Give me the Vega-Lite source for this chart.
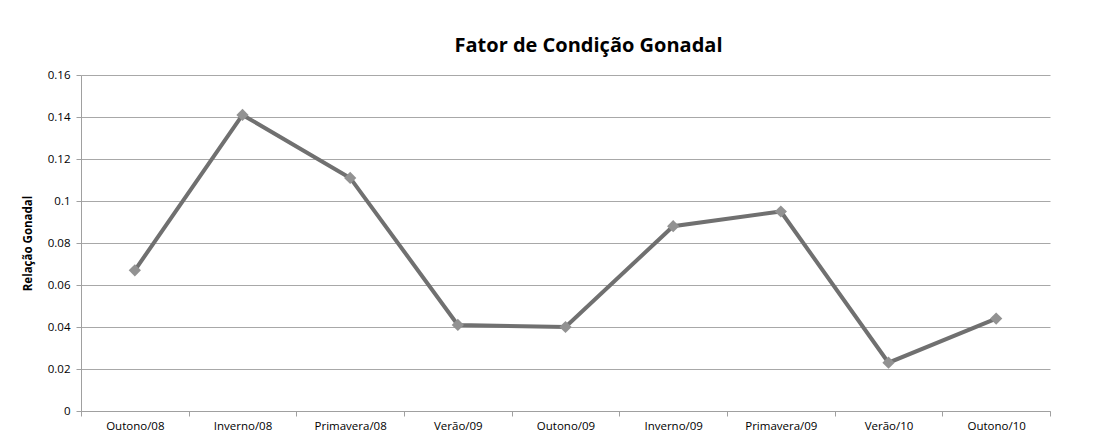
{
  "$schema": "https://vega.github.io/schema/vega-lite/v6.json",
  "autosize": "none",
  "width": 969,
  "height": 336,
  "padding": {"left": 81, "top": 75, "right": 52, "bottom": 29},
  "background": "white",
  "title": {
    "text": "Fator de Condição Gonadal",
    "font": "Open Sans",
    "fontSize": 20,
    "fontWeight": "bold",
    "color": "#000000",
    "anchor": "middle",
    "dx": 23,
    "offset": 13
  },
  "data": {
    "values": [
      {"estacao": "Outono/08", "valor": 0.067},
      {"estacao": "Inverno/08", "valor": 0.141},
      {"estacao": "Primavera/08", "valor": 0.111},
      {"estacao": "Verão/09", "valor": 0.041},
      {"estacao": "Outono/09", "valor": 0.040},
      {"estacao": "Inverno/09", "valor": 0.088},
      {"estacao": "Primavera/09", "valor": 0.095},
      {"estacao": "Verão/10", "valor": 0.023},
      {"estacao": "Outono/10", "valor": 0.044}
    ]
  },
  "encoding": {
    "x": {
      "field": "estacao",
      "type": "nominal",
      "sort": null,
      "scale": {"type": "band", "paddingInner": 0, "paddingOuter": 0},
      "axis": {
        "title": null,
        "labelAngle": 0,
        "labelFont": "Open Sans",
        "labelFontSize": 11.5,
        "labelColor": "#000000",
        "labelPadding": 4,
        "tickBand": "extent",
        "tickColor": "#a0a0a0",
        "tickSize": 5,
        "domainColor": "#a0a0a0",
        "grid": false
      }
    },
    "y": {
      "field": "valor",
      "type": "quantitative",
      "scale": {"domain": [0, 0.16], "nice": false},
      "axis": {
        "title": "Relação Gonadal",
        "titleFont": "Open Sans",
        "titleFontSize": 11.5,
        "titleFontWeight": "bold",
        "titleColor": "#000000",
        "titlePadding": 14,
        "values": [0, 0.02, 0.04, 0.06, 0.08, 0.1, 0.12, 0.14, 0.16],
        "format": "~g",
        "labelFont": "Open Sans",
        "labelFontSize": 11.5,
        "labelColor": "#000000",
        "labelPadding": 6,
        "tickColor": "#a0a0a0",
        "tickSize": 5,
        "domainColor": "#a0a0a0",
        "gridColor": "#a8a8a8",
        "gridWidth": 1
      }
    }
  },
  "layer": [
    {"mark": {"type": "line", "color": "#707070", "strokeWidth": 4}},
    {"mark": {"type": "point", "shape": "diamond", "filled": true, "color": "#929292", "opacity": 1, "size": 150}}
  ],
  "config": {"view": {"stroke": null}}
}
